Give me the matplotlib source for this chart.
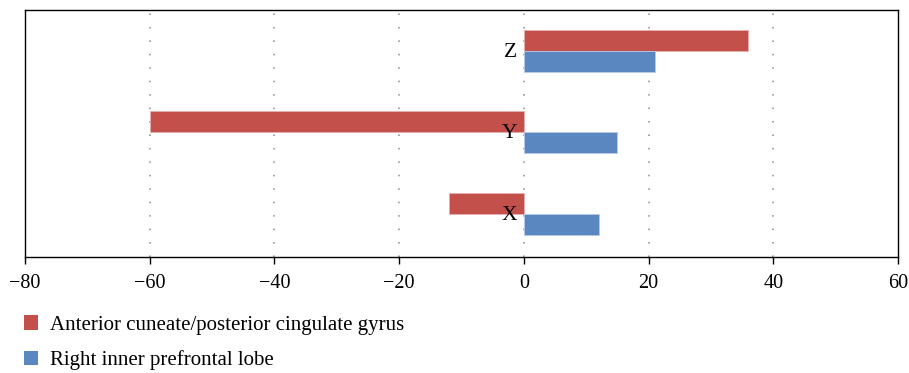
import matplotlib
matplotlib.use("Agg")
import matplotlib.pyplot as plt
from matplotlib.patches import Patch
import numpy as np

plt.rcParams['font.family'] = ['Liberation Serif', 'DejaVu Serif']

categories = ["X", "Y", "Z"]
series_names = ["Anterior cuneate/posterior cingulate gyrus", "Right inner prefrontal lobe"]
cingulate = [-12, -60, 36]
prefrontal = [12, 15, 21]
xticks = [-80, -60, -40, -20, 0, 20, 40, 60]

red = "#C4504C"
blue = "#5B87C1"

fig = plt.figure(figsize=(9.09, 3.73), dpi=100)
ax = fig.add_axes([0.0275, 0.311, 0.9605, 0.662])

y = np.arange(len(categories))
h = 0.258
ax.barh(y + h / 2, cingulate, height=h, color=red, edgecolor="#e8b0ae", linewidth=0.6, zorder=3)
ax.barh(y - h / 2, prefrontal, height=h, color=blue, edgecolor="#b7cbe6", linewidth=0.6, zorder=3)

ax.set_xlim(-80, 60)
ax.set_ylim(-0.53, 2.5)
ax.set_xticks(xticks)
ax.set_xticklabels([("\u2212%d" % -v) if v < 0 else "%d" % v for v in xticks], fontsize=14.5)
ax.set_yticks([])
ax.tick_params(axis="x", direction="out", length=5, width=1, pad=7, colors="black")

for v in xticks[1:-1]:
    ax.axvline(v, color="#8a8a8a", linewidth=1.1, linestyle=(0, (1, 7.8)), zorder=1)

for i, lab in enumerate(categories):
    ax.annotate(lab, xy=(0, i), xytext=(-5, -1), textcoords="offset points",
                ha="right", va="center", fontsize=15.5, zorder=4)

for s in ax.spines.values():
    s.set_color("black")
    s.set_linewidth(1)

handles = [Patch(facecolor=red, edgecolor="none"), Patch(facecolor=blue, edgecolor="none")]
fig.legend(handles, series_names, loc="upper left", bbox_to_anchor=(0.026, 0.155),
           frameon=False, fontsize=15, handlelength=0.7, handleheight=0.7,
           handletextpad=0.55, labelspacing=0.75, borderaxespad=0, borderpad=0)

fig.savefig("out.png", dpi=100)
